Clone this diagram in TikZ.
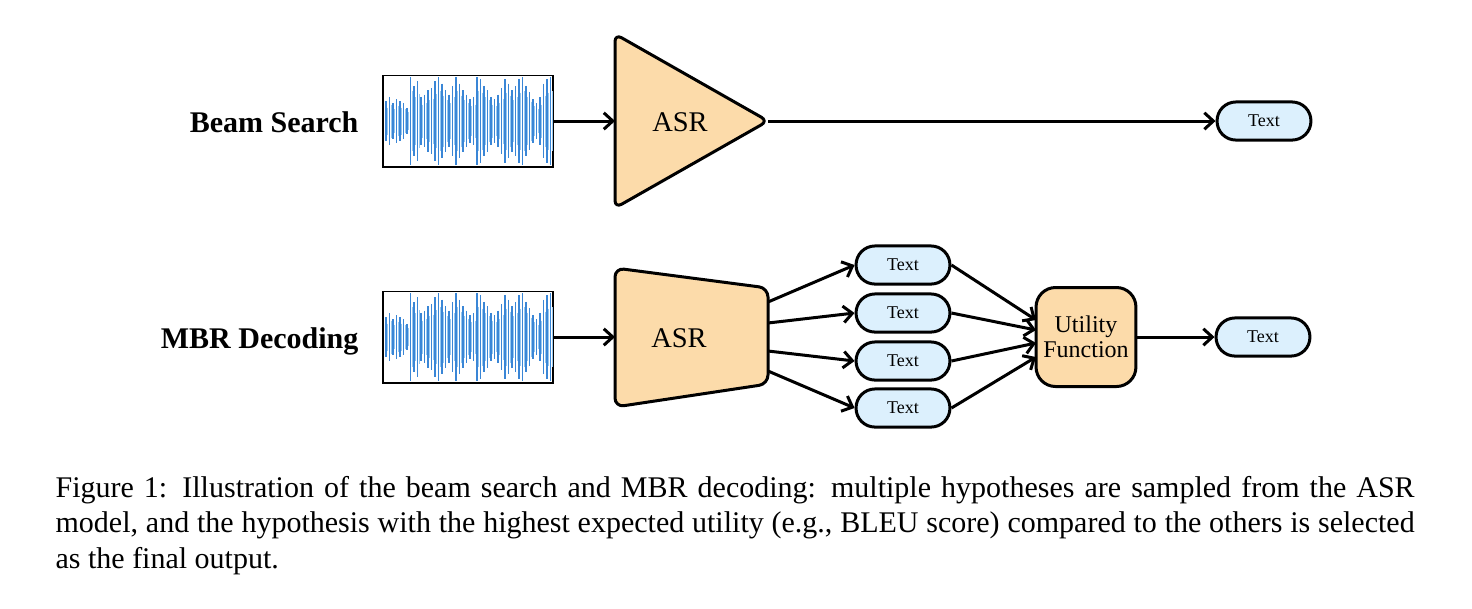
\documentclass[tikz,border=0pt]{standalone}
\usepackage{fontspec}
\setmainfont{Liberation Serif}
\usetikzlibrary{arrows.meta}
\definecolor{asrorange}{RGB}{252,219,170}
\definecolor{textblue}{RGB}{220,240,253}
\definecolor{wavecol}{RGB}{58,134,214}
\definecolor{wavelight}{RGB}{150,200,240}
\begin{document}
\begin{tikzpicture}[x=0.33333pt,y=-0.33333pt,
  conn/.style={line width=1pt, -{Straight Barb[length=3pt,width=5.5pt,line width=1pt]}},
  wavebox/.style={draw, line width=0.5pt, minimum width=56.7pt, minimum height=30.5pt, inner sep=0pt},
  waveline/.style={draw=wavecol, line width=0.55pt},
  wavesoft/.style={draw=wavelight, line width=0.4pt},
  hyp/.style={draw, line width=1pt, fill=textblue, rounded corners=6.3pt, minimum width=31.3pt, minimum height=12.7pt, inner sep=0pt, font=\fontsize{6}{7}\selectfont},
  util/.style={draw, line width=1pt, fill=asrorange, rounded corners=6.5pt, minimum width=33.3pt, minimum height=33pt, inner sep=0pt, align=center, font=\fontsize{8}{8.4}\selectfont},
  asrshape/.style={draw, line width=1pt, fill=asrorange, line join=round},
  rowlabel/.style={anchor=base east, inner sep=0pt, font=\fontsize{10}{12}\selectfont\bfseries},
  asrlabel/.style={anchor=base, inner sep=0pt, font=\fontsize{9.5}{11}\selectfont},
  caption/.style={anchor=base west, inner sep=0pt, font=\fontsize{10}{12}\selectfont}
]
\useasboundingbox (0,0) rectangle (1472,608);

% ---------- waveforms ----------
\foreach \cy/\nm in {121/w1, 337/w2}{
  \node[wavebox] (\nm) at (468,\cy) {};
  \foreach \a [count=\i from 0] in {0.45,0.55,0.4,0.5,0.45,0.4,0.3,1.0,0.8,0.9,0.55,0.6,0.7,0.75,0.9,1.0,0.85,0.7,0.6,0.8,1.0,0.85,0.7,0.6,0.5,0.55,1.0,0.95,0.8,0.7,0.55,0.5,0.6,0.75,0.95,0.85,0.7,0.8,0.95,1.0,0.8,0.65,0.5,0.4,0.55,0.85,0.95,1.0}{
    \draw[wavesoft] ({387.75+3.5*\i},{\cy-30*\a}) -- ({387.75+3.5*\i},{\cy+30*\a});
    \draw[waveline] ({386+3.5*\i},{\cy-44*\a}) -- ({386+3.5*\i},{\cy+44*\a});
  }
}

% ---------- row labels ----------
\node[rowlabel] (lbl1) at (359,132) {Beam Search};
\node[rowlabel] (lbl2) at (359,348) {MBR Decoding};

% ---------- beam search row ----------
\draw[asrshape, rounded corners=2.5pt] (615,34) -- (768,121) -- (615,208) -- cycle;
\node[asrlabel] (asr1) at (680,131) {ASR};
\coordinate (asr1in) at (615,121);
\coordinate (asr1out) at (768,121);
\node[hyp] (out1) at (1264,121) {Text};
\draw[conn] (w1.east) -- (asr1in);
\draw[conn] (asr1out) -- (out1.west);

% ---------- MBR row ----------
\draw[asrshape, rounded corners=3pt] (615,268) -- (768,288) -- (768,384) -- (615,407) -- cycle;
\node[asrlabel] (asr2) at (679,347) {ASR};
\coordinate (asr2in) at (615,337);
\coordinate (o1) at (768,302);
\coordinate (o2) at (768,323);
\coordinate (o3) at (768,351);
\coordinate (o4) at (768,371);
\draw[conn] (w2.east) -- (asr2in);

\node[hyp] (h1) at (903,265) {Text};
\node[hyp] (h2) at (903,313) {Text};
\node[hyp] (h3) at (903,361) {Text};
\node[hyp] (h4) at (903,408) {Text};

\node[util] (util) at (1086,337) {Utility\\Function};
\coordinate (u1) at (1036,320);
\coordinate (u2) at (1036,330);
\coordinate (u3) at (1036,343);
\coordinate (u4) at (1036,357);

\node[hyp] (out2) at (1263,337) {Text};

\foreach \k in {1,2,3,4}{
  \draw[conn] (o\k) -- (h\k.west);
  \draw[conn] (h\k.east) -- (u\k);
}
\draw[conn] (util.east) -- (out2.west);

% ---------- caption ----------
\node[caption] (cap1) at (55,497) {\makebox[453pt][s]{Figure 1: Illustration of the beam search and MBR decoding: multiple hypotheses are sampled from the ASR}};
\node[caption] (cap2) at (55,532.5) {\makebox[453pt][s]{model, and the hypothesis with the highest expected utility (e.g., BLEU score) compared to the others is selected}};
\node[caption] (cap3) at (55,568) {as the final output.};
\end{tikzpicture}
\end{document}
